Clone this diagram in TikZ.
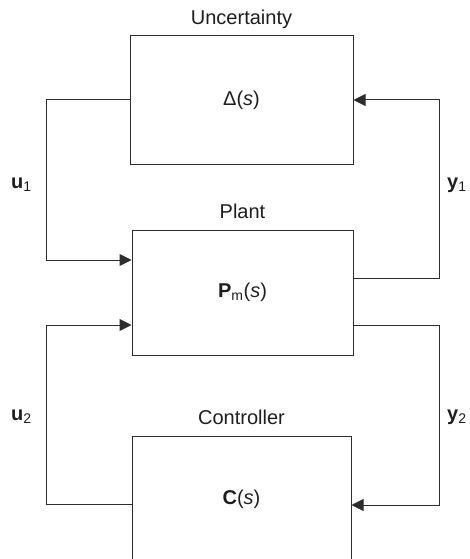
\documentclass[tikz,border=0pt]{standalone}
\usepackage{fontspec}
\setmainfont{Liberation Sans}
\usetikzlibrary{arrows.meta,positioning,calc}
\definecolor{linegray}{RGB}{45,45,45}
\definecolor{textgray}{RGB}{30,30,30}

\begin{document}
\begin{tikzpicture}[x=1pt,y=-1pt,>={Triangle[length=12pt,width=12pt]},
  block/.style={draw=linegray,line width=1pt,inner sep=0pt,text=textgray,font=\fontsize{20}{23}\selectfont},
  title/.style={inner sep=0pt,text depth=0pt,text=textgray,font=\fontsize{20}{23}\selectfont},
  sig/.style={inner sep=0pt,anchor=base west,text=textgray,font=\fontsize{20}{23}\selectfont},
  wire/.style={draw=linegray,line width=1pt}]
\useasboundingbox (0,0) rectangle (469,559);
\clip (0,0) rectangle (469,559);
% blocks
\node[block,minimum width=223pt,minimum height=128pt] (unc) at (241.5,100) {Δ(\textit{s})};
\node[block,minimum width=221pt,minimum height=125pt] (plant) at (242.5,292.5) {\textbf{P}\textsubscript{m}(\textit{s})};
\node[block,minimum width=219pt,minimum height=126pt] (ctrl) at (241.5,499) {\textbf{C}(\textit{s})};
\node[title,above=11pt of unc] (unct) {Uncertainty};
\node[title,above=11pt of plant] (plantt) {Plant};
\node[title,above=11pt of ctrl] (ctrlt) {Controller};
% rails and ports
\coordinate (lrail) at (46,0);
\coordinate (rrail) at (439,0);
\coordinate (pin1) at ($(plant.west)+(0,-32.5)$);
\coordinate (pin2) at ($(plant.west)+(0,32.5)$);
\coordinate (pout1) at ($(plant.east)+(0,-14.5)$);
\coordinate (pout2) at ($(plant.east)+(0,32.5)$);
\coordinate (cout) at ($(ctrl.west)+(0,5)$);
\coordinate (cin) at ($(ctrl.east)+(0,6)$);
% connectors
\draw[wire,->] (unc.west) -- (unc.west -| lrail) |- (pin1);
\draw[wire,->] (pout1) -| (rrail |- unc.east) -- (unc.east);
\draw[wire,->] (cout) -- (cout -| lrail) |- (pin2);
\draw[wire,->] (pout2) -| (rrail |- cin) -- (cin);
% signals
\node[sig] (u1) at (11,188) {\textbf{u}\textsubscript{1}};
\node[sig] (y1) at (447,188) {\textbf{y}\textsubscript{1}};
\node[sig] (u2) at (11,420) {\textbf{u}\textsubscript{2}};
\node[sig] (y2) at (447,420) {\textbf{y}\textsubscript{2}};
\end{tikzpicture}
\end{document}
